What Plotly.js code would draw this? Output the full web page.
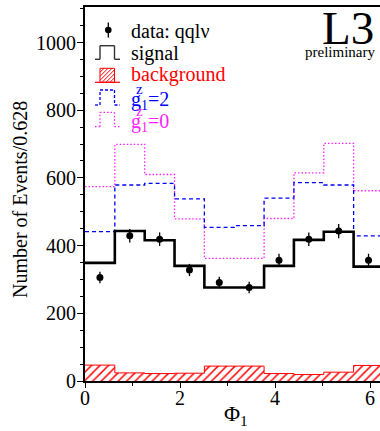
<!DOCTYPE html>
<html>
<head>
<meta charset="utf-8">
<script src="https://cdn.plot.ly/plotly-3.0.1.min.js"></script>
<style>
  html, body { margin: 0; padding: 0; background: #fff; }
  #chart { width: 380px; height: 431px; }
</style>
</head>
<body>
<div id="chart"></div>
<script>
// Phi_1 distribution, 10 bins of width 0.628 over [0, 2pi]
var binEdges = [0, 0.628, 1.257, 1.885, 2.513, 3.142, 3.770, 4.398, 5.027, 5.655, 6.283];
var binCenters = [0.314, 0.942, 1.571, 2.199, 2.827, 3.456, 4.084, 4.712, 5.341, 5.969];

var dataCounts = [306, 429, 419, 328, 291, 276, 357, 419, 443, 357];
var dataErrors = [17, 20, 20, 18, 17, 17, 19, 20, 21, 19];
var signal     = [349, 443, 416, 340, 276, 276, 340, 417, 441, 338];
var background = [47, 24, 22, 23, 44, 44, 22, 19, 26, 46];
var g1z2       = [441, 579, 584, 538, 454, 459, 540, 586, 579, 429];
var g1z0       = [574, 699, 610, 479, 362, 362, 480, 615, 702, 562];

var yTickVals = [0, 200, 400, 600, 800, 1000];
var xTickVals = [0, 2, 4, 6];

// step-histogram outline: repeat the last bin content at the closing edge
function steps(vals) { return vals.concat([vals[vals.length - 1]]); }

var serif = "'Liberation Serif', 'Times New Roman', Times, serif";
var RED = '#ff0000', BLUE = '#0000ff', MAGENTA = '#ff22ff';

var traces = [
  {
    x: binEdges, y: steps(background), type: 'scatter', mode: 'lines',
    line: { shape: 'hv', color: RED, width: 1 },
    fill: 'tozeroy', fillcolor: 'rgba(255,255,255,0)',
    fillpattern: { shape: '/', fgcolor: RED, bgcolor: 'rgba(255,255,255,0)', size: 6, solidity: 0.25 },
    hoverinfo: 'skip'
  },
  {
    x: binEdges, y: steps(g1z0), type: 'scatter', mode: 'lines',
    line: { shape: 'hv', color: MAGENTA, width: 1.3, dash: '1.5px,2px' }
  },
  {
    x: binEdges, y: steps(g1z2), type: 'scatter', mode: 'lines',
    line: { shape: 'hv', color: BLUE, width: 1.3, dash: '4px,3px' }
  },
  {
    x: binEdges, y: steps(signal), type: 'scatter', mode: 'lines',
    line: { shape: 'hv', color: '#000', width: 2.6 }
  },
  {
    x: binCenters, y: dataCounts, type: 'scatter', mode: 'markers',
    marker: { color: '#000', size: 7 },
    error_y: { type: 'data', array: dataErrors, visible: true, color: '#000', thickness: 1.3, width: 0 }
  }
];

// plot frame in pixels
var L = 85, R = 380, T = 7, B = 381;
function px(x) { return (x - L) / (R - L); }
function py(y) { return (B - y) / (B - T); }

var shapes = [];
var annotations = [];

function seg(x0, y0, x1, y1, color, width, dash) {
  shapes.push({ type: 'line', xref: 'paper', yref: 'paper',
    x0: px(x0), y0: py(y0), x1: px(x1), y1: py(y1),
    line: { color: color, width: width, dash: dash || 'solid' } });
}
// bin-outline key glyph
function binGlyph(top, bottom, color, width, dash) {
  seg(95, bottom, 100, bottom, color, width, dash);
  seg(100, bottom, 100, top, color, width, dash);
  seg(100, top, 114.5, top, color, width, dash);
  seg(114.5, top, 114.5, bottom, color, width, dash);
  seg(114.5, bottom, 120, bottom, color, width, dash);
}
function label(text, y, color, size) {
  annotations.push({ xref: 'paper', yref: 'paper', x: px(129), y: py(y),
    xanchor: 'left', yanchor: 'middle', showarrow: false, text: text,
    font: { family: serif, size: size || 20, color: color } });
}

// key: data
seg(108.3, 22.5, 108.3, 37.5, '#000', 1.3);
shapes.push({ type: 'circle', xref: 'paper', yref: 'paper',
  x0: px(105), x1: px(111.6), y0: py(26.7), y1: py(33.3),
  fillcolor: '#000', line: { color: '#000', width: 0 } });
label('data: qqlν', 31, '#000');

// key: signal
binGlyph(45.7, 59.3, '#333', 1.4);
label('signal', 53, '#000');

// key: background (hatched box)
(function () {
  var x0 = 100, x1 = 114.5, y0 = 68.3, y1 = 82.3, step = 4;
  shapes.push({ type: 'rect', xref: 'paper', yref: 'paper',
    x0: px(x0), x1: px(x1), y0: py(y1), y1: py(y0),
    line: { color: RED, width: 1 }, fillcolor: 'rgba(0,0,0,0)' });
  for (var c = x0 - (y1 - y0) + step; c < x1; c += step) {
    // line rising to the right: x = c + (y1 - y)
    var ax = c, ay = y1, bx = c + (y1 - y0), by = y0;
    if (ax < x0) { ay = y1 - (x0 - ax); ax = x0; }
    if (bx > x1) { by = y0 + (bx - x1); bx = x1; }
    if (ax < bx) seg(ax, ay, bx, by, RED, 1);
  }
  seg(95, 82.3, 120, 82.3, RED, 1.2);
})();
label('background', 75, RED);

// key: anomalous couplings
binGlyph(90, 105, BLUE, 1.3, '3px,2px');
label('g<sub>1</sub>=2', 100, BLUE);
annotations.push({ xref: 'paper', yref: 'paper', x: px(139.5), y: py(89), xanchor: 'center', yanchor: 'middle',
  showarrow: false, text: 'z', font: { family: serif, size: 15, color: BLUE } });

binGlyph(112.3, 126.7, MAGENTA, 1.3, '1.5px,2px');
label('g<sub>1</sub>=0', 122, MAGENTA);
annotations.push({ xref: 'paper', yref: 'paper', x: px(139.5), y: py(111), xanchor: 'center', yanchor: 'middle',
  showarrow: false, text: 'z', font: { family: serif, size: 15, color: MAGENTA } });

// experiment tag
annotations.push({ xref: 'paper', yref: 'paper', x: px(376), y: py(28), xanchor: 'right', yanchor: 'middle',
  showarrow: false, text: 'L3', font: { family: serif, size: 47, color: '#000' } });
annotations.push({ xref: 'paper', yref: 'paper', x: px(377), y: py(52), xanchor: 'right', yanchor: 'middle',
  showarrow: false, text: 'preliminary', font: { family: serif, size: 15, color: '#000' } });

// axis titles
annotations.push({ xref: 'paper', yref: 'paper', x: px(20), y: py(200), xanchor: 'center', yanchor: 'middle',
  textangle: -90, showarrow: false, text: 'Number of Events/0.628',
  font: { family: serif, size: 20, color: '#000' } });
annotations.push({ xref: 'paper', yref: 'paper', x: px(236), y: py(415), xanchor: 'center', yanchor: 'middle',
  showarrow: false, text: 'Φ<sub>1</sub>', font: { family: serif, size: 22, color: '#000' } });

var layout = {
  width: 380, height: 431,
  margin: { l: L, r: 380 - R, t: T, b: 431 - B, pad: 0 },
  paper_bgcolor: '#fff', plot_bgcolor: '#fff',
  showlegend: false,
  font: { family: serif, size: 20, color: '#000' },
  xaxis: {
    range: [0, (R - L) / 47.5], tickvals: xTickVals, ticktext: xTickVals.map(String),
    ticks: 'outside', ticklen: 5, tickwidth: 1, tickcolor: '#000', ticklabelstandoff: -7,
    minor: { dtick: 1, tick0: 0, ticks: 'outside', ticklen: 3, tickcolor: '#000' },
    showgrid: false, zeroline: false, showline: true, linecolor: '#000', linewidth: 2, mirror: true,
    tickfont: { family: serif, size: 20, color: '#000' }
  },
  yaxis: {
    range: [0, (B - T) / 0.3385], tickvals: yTickVals, ticktext: yTickVals.map(String),
    ticks: 'outside', ticklen: 6, tickwidth: 1, tickcolor: '#000', ticklabelstandoff: -3,
    minor: { dtick: 50, tick0: 0, ticks: 'outside', ticklen: 3, tickcolor: '#000' },
    showgrid: false, zeroline: false, showline: true, linecolor: '#000', linewidth: 2, mirror: true,
    tickfont: { family: serif, size: 20, color: '#000' }
  },
  shapes: shapes,
  annotations: annotations
};

Plotly.newPlot('chart', traces, layout, { displayModeBar: false, staticPlot: true });
</script>
</body>
</html>
